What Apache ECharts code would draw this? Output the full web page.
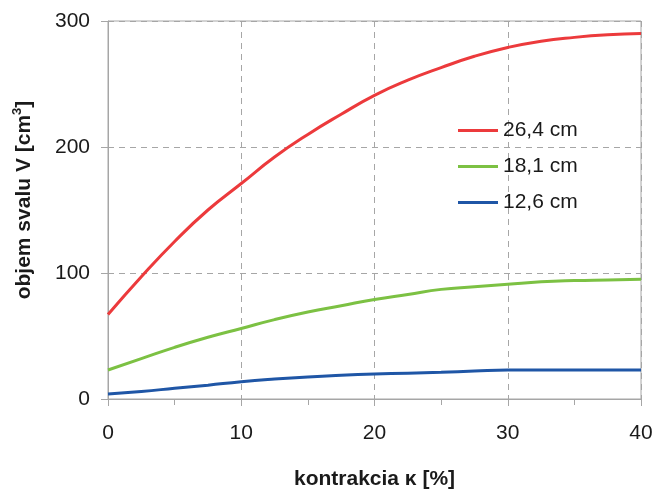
<!DOCTYPE html>
<html><head><meta charset="utf-8">
<script src="https://cdn.jsdelivr.net/npm/echarts@6/dist/echarts.min.js"></script>
<style>html,body{margin:0;padding:0;background:#fff}#c{width:654px;height:492px}</style>
</head><body><div id="c"></div>
<script>
const xValues = [0, 2.5, 5, 7.5, 10, 12.5, 15, 17.5, 20, 22.5, 25, 27.5, 30, 32.5, 35, 37.5, 40];
const series264 = [67, 97, 125, 150, 171, 192, 210, 226, 241, 253, 263, 272, 279, 284, 287, 289, 290];
const series181 = [23, 32, 41, 49, 56, 63, 69, 74, 79, 83, 87, 89, 91, 93, 94, 94.5, 95];
const series126 = [4, 6, 8.5, 11, 13.7, 15.8, 17.5, 18.8, 19.8, 20.5, 21.2, 22.2, 23, 23, 23, 23, 23];
const seriesNames = ['26,4 cm', '18,1 cm', '12,6 cm'];
const colors = ['#ec3a3c', '#7cc143', '#1f56a6'];
const yTicks = [0, 100, 200, 300];

const chart = echarts.init(document.getElementById('c'));
const font = 'Liberation Sans, Arial, sans-serif';
function pairs(arr){ return xValues.map((x,i)=>[x, arr[i]]); }
const datasets = [series264, series181, series126];
chart.setOption({
  animation: false,
  textStyle: { fontFamily: font },
  grid: { left: 108, right: 13, top: 21, bottom: 93, show: true, borderColor: '#a6a6a6', borderWidth: 1, backgroundColor: 'transparent', outerBoundsMode: 'none', containLabel: false },
  legend: {
    orient: 'vertical', left: 453, top: 115, itemGap: 15, itemWidth: 40, itemHeight: 3,
    icon: 'rect',
    textStyle: { fontSize: 21, color: '#1a1a1a', fontFamily: font },
    data: seriesNames
  },
  xAxis: {
    type: 'value', min: 0, max: 40, interval: 10,
    name: 'kontrakcia κ [%]', nameLocation: 'middle', nameGap: 70,
    nameTextStyle: { fontSize: 21, fontWeight: 'bold', color: '#1a1a1a', fontFamily: font },
    axisLine: { show: true, lineStyle: { color: '#a6a6a6', width: 1 } },
    axisTick: { show: true, length: 7, lineStyle: { color: '#a6a6a6' } },
    minorTick: { show: true, splitNumber: 2, length: 6, lineStyle: { color: '#a6a6a6' } },
    axisLabel: { fontSize: 21, color: '#1a1a1a', margin: 24, fontFamily: font },
    splitLine: { show: true, lineStyle: { color: '#a6a6a6', type: [6, 5], width: 1 } }
  },
  yAxis: {
    type: 'value', min: 0, max: 300, interval: 100,
    name: '{a|objem svalu V [cm}{s|3}{a|]}', nameLocation: 'middle', nameGap: 73,
    nameTextStyle: {
      color: '#1a1a1a', fontFamily: font, padding: [0, 0, 0, 20],
      rich: {
        a: { fontSize: 21, fontWeight: 'bold', color: '#1a1a1a', fontFamily: font, lineHeight: 24, verticalAlign: 'bottom' },
        s: { fontSize: 13, fontWeight: 'bold', color: '#1a1a1a', fontFamily: font, lineHeight: 24, verticalAlign: 'top', padding: [0, 0, 8, 0] }
      }
    },
    axisLine: { show: true, lineStyle: { color: '#a6a6a6', width: 1 } },
    axisTick: { show: true, length: 7, lineStyle: { color: '#a6a6a6' } },
    axisLabel: { fontSize: 21, color: '#1a1a1a', margin: 18, fontFamily: font },
    splitLine: { show: true, lineStyle: { color: '#a6a6a6', type: [6, 5], width: 1 } }
  },
  series: datasets.map((d, i) => ({
    name: seriesNames[i], type: 'line', smooth: true, showSymbol: false, symbol: 'none',
    data: pairs(d), color: colors[i], lineStyle: { width: 3, color: colors[i] }
  }))
});
</script></body></html>
